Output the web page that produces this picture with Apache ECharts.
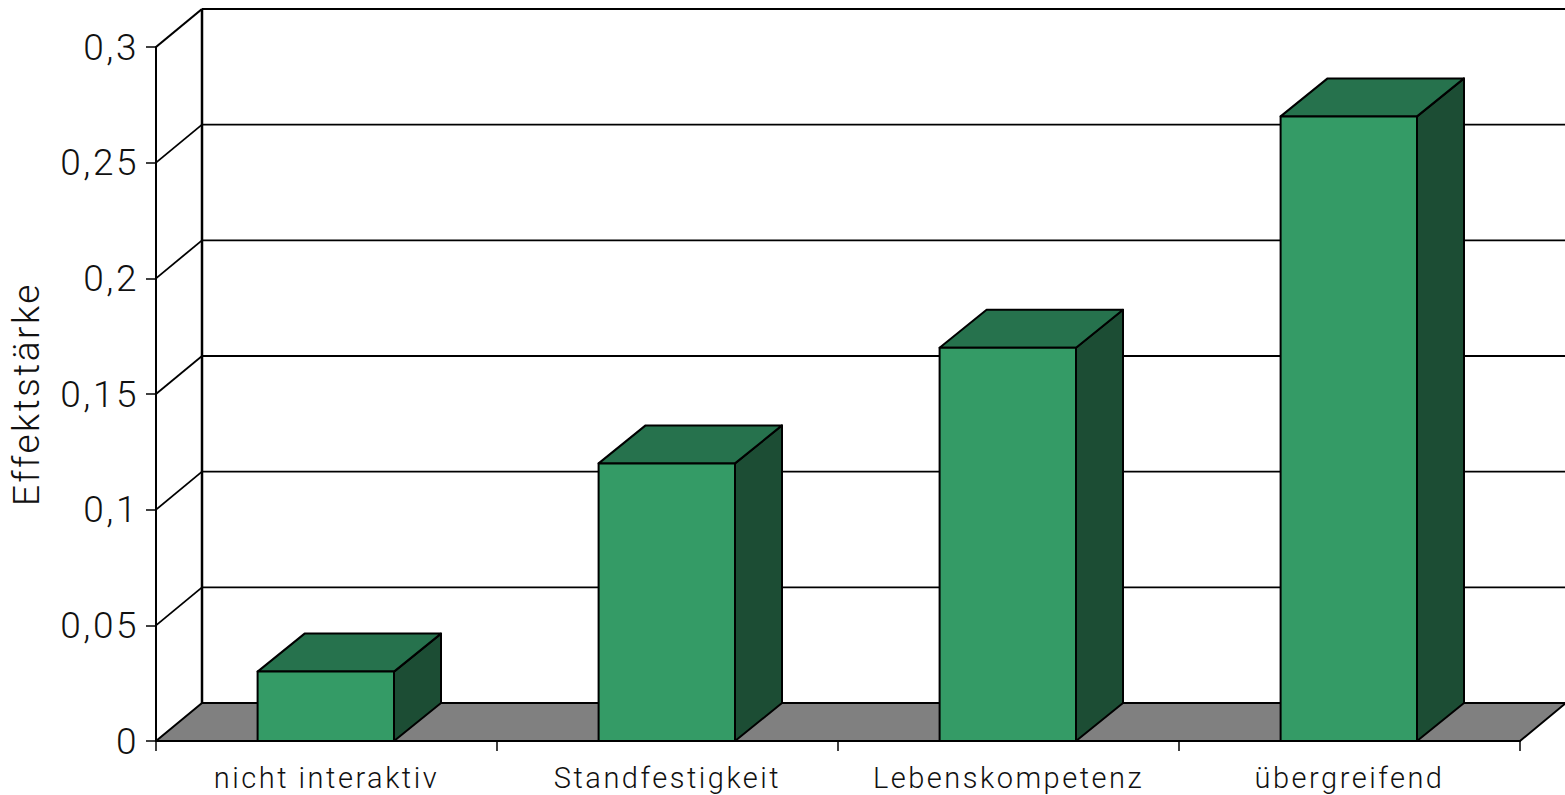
<!DOCTYPE html>
<html><head><meta charset="utf-8">
<style>html,body{margin:0;padding:0;background:#fff}#c{width:1565px;height:795px;letter-spacing:2.5px}</style>
<script src="https://cdn.jsdelivr.net/npm/echarts@6/dist/echarts.min.js"></script>
</head><body><div id="c"></div>
<script>
const categories=['nicht interaktiv','Standfestigkeit','Lebenskompetenz','übergreifend'];
const values=[0.03,0.12,0.17,0.27];
const yTicks=[0,0.05,0.1,0.15,0.2,0.25,0.3];
const yTitle='Effektstärke';
const DX=46,DY=-38,BAR_DX=47;
const chart=echarts.init(document.getElementById('c'),null,{renderer:'svg'});
const poly=(pts,fill,lw)=>({type:'polygon',shape:{points:pts},style:{fill:fill,stroke:'#000',lineWidth:lw,lineJoin:'round'}});
const line=(x1,y1,x2,y2,lw)=>({type:'line',shape:{x1,y1,x2,y2},style:{stroke:'#000',lineWidth:lw,fill:null}});
chart.setOption({
  animation:false,
  grid:{left:156,right:45,top:47,bottom:54,containLabel:false,outerBoundsMode:'none'},
  xAxis:{type:'category',data:categories,
    axisLine:{show:true,lineStyle:{color:'#000',width:2}},
    axisTick:{show:true,alignWithLabel:false,length:10,lineStyle:{color:'#000',width:1.5}},
    axisLabel:{color:'#111',fontFamily:'Roboto',fontWeight:300,fontSize:29,margin:22,interval:0},
    splitLine:{show:false}},
  yAxis:{type:'value',min:0,max:0.3,interval:0.05,
    name:yTitle,nameLocation:'middle',nameGap:111,nameRotate:90,
    nameTextStyle:{color:'#111',fontFamily:'Roboto',fontWeight:300,fontSize:37},
    axisLine:{show:true,onZero:false,lineStyle:{color:'#000',width:2}},
    axisTick:{show:true,length:10,lineStyle:{color:'#000',width:1.5}},
    axisLabel:{color:'#111',fontFamily:'Roboto',fontWeight:300,fontSize:37,margin:17,padding:[4,0,0,0],
      formatter:v=>String(+v.toFixed(2)).replace('.',',')},
    splitLine:{show:false}},
  series:[
    {type:'custom',coordinateSystem:'cartesian2d',clip:false,z:1,silent:true,
      data:yTicks.map(v=>[0,v]),encode:{x:0,y:1},
      renderItem(params,api){
        const cs=params.coordSys,v=api.value(1),y=api.coord([0,v])[1];
        const x0=cs.x,x1=cs.x+cs.width;
        const ch=[];
        if(v===0){
          ch.push(poly([[x0,y],[x0+DX,y+DY],[x1+DX,y+DY],[x1,y]],'#808080',2));
          ch.push(line(x0+DX,cs.y+DY,x0+DX,y+DY,2.5));
        }else{
          const top=v===yTicks[yTicks.length-1];
          ch.push(line(x0,y,x0+DX,y+DY,top?2.2:1.8));
          ch.push(line(x0+DX,y+DY,x1+DX,y+DY,top?2.2:1.8));
        }
        return {type:'group',children:ch};
      }},
    {type:'custom',coordinateSystem:'cartesian2d',clip:false,z:2,silent:true,
      data:values.map((v,i)=>[i,v]),encode:{x:0,y:1},
      renderItem(params,api){
        const i=api.value(0),v=api.value(1);
        const p=api.coord([i,v]),b=api.coord([i,0]);
        const w=api.size([1,0])[0]*0.4,l=p[0]-w/2-0.7,r=p[0]+w/2-0.7,t=p[1],bt=b[1];
        return {type:'group',children:[
          poly([[r,t],[r+BAR_DX,t+DY],[r+BAR_DX,bt+DY],[r,bt]],'#1c4d34',2),
          poly([[l,t],[l+BAR_DX,t+DY],[r+BAR_DX,t+DY],[r,t]],'#26724d',2),
          poly([[l,t],[r,t],[r,bt],[l,bt]],'#349b66',2)
        ]};
      }}
  ]
});
</script></body></html>
